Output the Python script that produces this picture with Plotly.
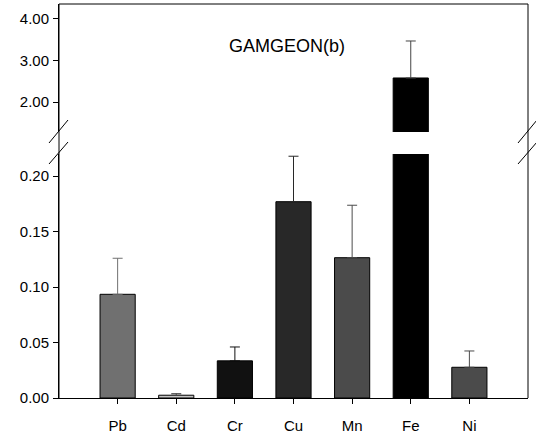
import plotly.graph_objects as go

elements = ["Pb", "Cd", "Cr", "Cu", "Mn", "Fe", "Ni"]
means = [0.0935, 0.0025, 0.0335, 0.177, 0.1265, 2.58, 0.0277]
errors = [0.0325, 0.0014, 0.0125, 0.041, 0.0473, 0.89, 0.0147]
colors = ["#707070", "#c4c4c4", "#111111", "#282828", "#4b4b4b", "#000000", "#4b4b4b"]

low_ticks = [0.00, 0.05, 0.10, 0.15, 0.20]
high_ticks = [2.00, 3.00, 4.00]
low_range = [0, 0.22]
high_range = [1.28, 4.36]

W, H = 536, 438
ml, mr, mt, mb = 59, 8, 4, 40
ph = H - mt - mb
pw = W - ml - mr
low_top = (H - mb - 154) / ph
high_bot = (H - mb - 132) / ph

fig = go.Figure()
for i, (el, m, e, c) in enumerate(zip(elements, means, errors, colors)):
    xpos = i + 1
    in_low = m <= low_range[1]
    fig.add_trace(go.Bar(
        x=[xpos], y=[m], width=0.6, marker=dict(color=c, line=dict(color="black", width=1)),
        error_y=dict(type="data", array=[e if in_low else 0], arrayminus=[0], symmetric=False,
                     color=c if c != "#c4c4c4" else "#444444", thickness=1, width=5,
                     visible=in_low),
        xaxis="x", yaxis="y", showlegend=False))
    if m > high_range[0]:
        fig.add_trace(go.Bar(
            x=[xpos], y=[m], width=0.6, marker=dict(color=c, line=dict(color="black", width=1)),
            error_y=dict(type="data", array=[e], arrayminus=[0], symmetric=False,
                         color="#444444", thickness=1, width=5),
            xaxis="x2", yaxis="y2", showlegend=False))

font = dict(family="Liberation Sans, Arial, sans-serif", size=15, color="black")

fig.update_layout(
    width=W, height=H, margin=dict(l=ml, r=mr, t=mt, b=mb),
    paper_bgcolor="white", plot_bgcolor="white", barmode="overlay",
    font=font,
    xaxis=dict(domain=[0, 1], range=[0, 8], tickvals=list(range(1, len(elements) + 1)),
               ticktext=elements, ticks="outside", ticklen=5, tickcolor="black",
               showline=True, linecolor="black", linewidth=1, showgrid=False,
               zeroline=False, anchor="y", ticklabelstandoff=9),
    yaxis=dict(domain=[0, low_top], range=low_range, tickvals=low_ticks, tickformat=".2f",
               ticks="outside", ticklen=5, tickcolor="black", showline=True, linecolor="black",
               linewidth=1, showgrid=False, zeroline=False, anchor="x", ticklabelstandoff=1),
    xaxis2=dict(domain=[0, 1], range=[0, 8], matches="x", visible=False, anchor="y2"),
    yaxis2=dict(domain=[high_bot, 1], range=high_range, tickvals=high_ticks, tickformat=".2f",
                ticks="outside", ticklen=5, tickcolor="black", showline=True, linecolor="black",
                linewidth=1, showgrid=False, zeroline=False, anchor="x2", ticklabelstandoff=1),
)

# frame
lc = dict(color="black", width=1)
fig.add_shape(type="line", xref="paper", yref="paper", x0=0, x1=0, y0=0, y1=1, line=lc)
fig.add_shape(type="line", xref="paper", yref="paper", x0=1, x1=1, y0=0, y1=1, line=lc)
fig.add_shape(type="line", xref="paper", yref="paper", x0=0, x1=1, y0=1, y1=1, line=lc)

# break marks
def px2paper(x, y):
    return (x - ml) / pw, (H - mb - y) / ph

for xc in (59, 528):
    for (y1, y2) in ((143, 120), (164, 142)):
        xa, ya = px2paper(xc - 10, y1)
        xb, yb = px2paper(xc + 9, y2)
        fig.add_shape(type="line", xref="paper", yref="paper", x0=xa, y0=ya, x1=xb, y1=yb,
                      line=dict(color="black", width=1))

tx, ty = px2paper(287, 34)
fig.add_annotation(text="GAMGEON(b)", xref="paper", yref="paper", x=tx, y=ty,
                   showarrow=False, font=dict(family="Liberation Sans, Arial, sans-serif", size=18, color="black"))

fig.write_html("out.html")
